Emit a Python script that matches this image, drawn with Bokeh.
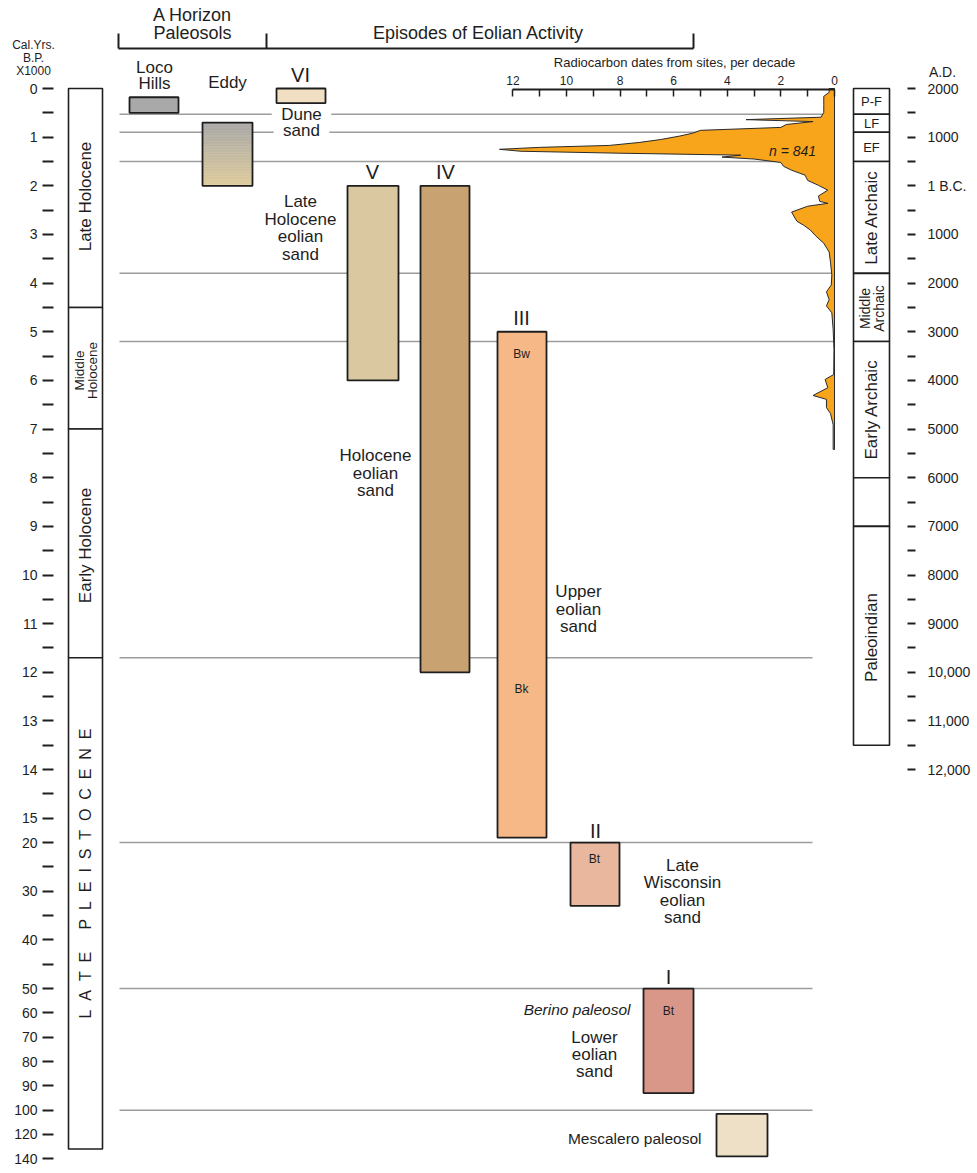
import numpy as np
from bokeh.plotting import figure
from bokeh.models import Range1d, LinearAxis, FixedTicker, Label
from bokeh.core.properties import value
from bokeh.embed import file_html
from bokeh.resources import INLINE

# ------------------------------------------------------------------ data
# non-linear time scale of the chart: ka -> axis units
SCALE_KA = [0, 15, 20, 50, 100, 140]
SCALE_U = [0, 15, 15.5, 18.5, 21, 22]

LEFT_TICKS_KA = [0, 1, 2, 3, 4, 5, 6, 7, 8, 9, 10, 11, 12, 13, 14, 15,
                 20, 30, 40, 50, 60, 70, 80, 90, 100, 120, 140]
LEFT_TICK_LABELS = ["0", "1", "2", "3", "4", "5", "6", "7", "8", "9", "10", "11", "12", "13",
                    "14", "15", "20", "30", "40", "50", "60", "70", "80", "90", "100", "120", "140"]
LEFT_MINOR_KA = [0.5, 1.5, 2.5, 3.5, 4.5, 5.5, 6.5, 7.5, 8.5, 9.5, 10.5, 11.5, 12.5, 13.5, 14.5,
                 25, 35, 45]

RIGHT_TICKS_KA = [0, 1, 2, 3, 4, 5, 6, 7, 8, 9, 10, 11, 12, 13, 14]
RIGHT_TICK_LABELS = ["2000", "1000", "1 B.C.", "1000", "2000", "3000", "4000", "5000", "6000",
                     "7000", "8000", "9000", "10,000", "11,000", "12,000"]
RIGHT_MINOR_KA = [0.5, 1.5, 2.5, 3.5, 4.5, 5.5, 6.5, 7.5, 8.5, 9.5, 10.5, 11.5, 12.5, 13.5]

COUNT_TICKS = [0, 2, 4, 6, 8, 10, 12]
COUNT_MINOR = [1, 3, 5, 7, 9, 11]

# geologic periods (left column)
PERIOD_NAMES = ["Late Holocene", "Middle Holocene", "Early Holocene", "LATE PLEISTOCENE"]
PERIOD_START_KA = [0.0, 4.5, 7.0, 11.7]
PERIOD_END_KA = [4.5, 7.0, 11.7, 132.0]

# cultural periods (right column)
CULT_NAMES = ["P-F", "LF", "EF", "Late Archaic", "Middle Archaic", "Early Archaic", "", "Paleoindian"]
CULT_START_KA = [0.0, 0.53, 0.9, 1.5, 3.8, 5.2, 8.0, 9.0]
CULT_END_KA = [0.53, 0.9, 1.5, 3.8, 5.2, 8.0, 9.0, 13.5]

# paleosols and eolian episodes
UNIT_NAMES = ["Loco Hills", "Eddy", "VI", "V", "IV", "III", "II", "I", "Mescalero"]
UNIT_TOP_KA = [0.18, 0.7, 0.0, 2.0, 2.0, 5.0, 20.0, 50.0, 103.0]
UNIT_BOTTOM_KA = [0.5, 2.0, 0.3, 6.0, 12.0, 19.0, 33.0, 93.0, 138.0]
UNIT_COLORS = ["#a9a9a9", "#ffffff", "#f0dfc2", "#d9c8a0", "#c9a271", "#f6b887", "#e9b79e",
               "#d9978a", "#ede0c6"]

# boundary lines
HLINE_KA = [0.53, 0.9, 1.5, 3.8, 5.2, 11.7, 20.0, 50.0, 100.0]

# radiocarbon dates from sites, per decade
HIST_KA = [0.00, 0.08, 0.16, 0.33, 0.49, 0.59, 0.64, 0.68, 0.74, 0.80,
           0.86, 0.92, 0.98, 1.05, 1.11, 1.17, 1.21, 1.25, 1.29, 1.33,
           1.37, 1.41, 1.45, 1.52, 1.60, 1.68, 1.78, 1.89, 1.99, 2.09,
           2.21, 2.32, 2.36, 2.42, 2.54, 2.64, 2.73, 2.81, 2.91, 3.03,
           3.18, 3.36, 3.57, 3.83, 4.04, 4.18, 4.34, 4.47, 4.61, 4.96,
           5.37, 5.88, 5.98, 6.15, 6.31, 6.39, 6.56, 6.68, 6.91, 7.42]
HIST_COUNT = [0.2, 0.2, 0.4, 0.4, 0.4, 0.5, 3.3, 0.8, 1.8, 2.0,
              5.0, 5.3, 5.8, 6.5, 7.3, 8.4, 11.0, 12.5, 11.7, 8.0,
              3.5, 4.2, 3.0, 2.0, 1.9, 1.6, 1.1, 1.0, 0.6, 0.25,
              0.6, 0.55, 0.25, 1.0, 1.6, 1.5, 1.4, 1.15, 0.9, 0.7,
              0.4, 0.2, 0.15, 0.1, 0.12, 0.3, 0.2, 0.3, 0.1, 0.05,
              0.02, 0.03, 0.35, 0.25, 0.8, 0.3, 0.3, 0.15, 0.05, 0.05]
N_DATES = 841

# ------------------------------------------------------------------ layout
FONT = "Liberation Sans"
INK = "#1e1e1e"
W, H = 972, 1168
PX0 = 0                     # canvas origin on the page
PX_TOP, PX_PER_U = 88.0, 48.65
COUNT_ZERO_PX, PX_PER_COUNT = 834.0, 26.8


def U(ka):
    return np.round(np.interp(ka, SCALE_KA, SCALE_U), 6)


def upx(py):
    return (py - PX_TOP) / PX_PER_U


p = figure(width=W, height=H,
           x_range=Range1d(PX0, PX0 + W),
           y_range=Range1d(upx(PX0 + H), upx(PX0)),
           output_backend="svg", toolbar_location=None, min_border=0,
           x_axis_type=None, y_axis_type=None)
p.outline_line_color = None
p.background_fill_color = "white"
p.border_fill_color = "white"
p.extra_x_ranges = {"count": Range1d(start=(COUNT_ZERO_PX - PX0) / PX_PER_COUNT,
                                     end=(COUNT_ZERO_PX - PX0 - W) / PX_PER_COUNT)}


def put(x, ypx, s, size, align="center", angle=0.0, style="normal", color=INK, baseline="middle"):
    p.text(x=[x], y=[upx(ypx)], text=[s], text_font=value(FONT),
           text_font_size=f"{size}px", text_align=align, text_baseline=baseline,
           angle=angle, text_font_style=style, text_color=color)


# ---- boundary lines
line_right = [834, 834, 834, 832, 834, 812, 812, 812, 812]
hy = U(HLINE_KA)
p.segment(x0=[119] * len(HLINE_KA), x1=line_right, y0=hy, y1=hy,
          line_color="#9c9c9c", line_width=1.5)

# ---- histogram of radiocarbon dates
hx = [0.0] + list(HIST_COUNT) + [0.0]
hk = U(HIST_KA)
hy2 = [hk[0]] + list(hk) + [hk[-1]]
p.patch(hx, hy2, x_range_name="count", fill_color="#f8a51c", line_color="#2a2a2a", line_width=1)

# ---- chronology columns
ps, pe = U(PERIOD_START_KA), U(PERIOD_END_KA)
p.quad(left=68, right=102, top=ps, bottom=pe, fill_color="white", line_color=INK, line_width=1.6)
cs, ce = U(CULT_START_KA), U(CULT_END_KA)
p.quad(left=853, right=889, top=cs, bottom=ce, fill_color="white", line_color=INK, line_width=1.6)

# ---- unit boxes
UNIT_LEFT = [129, 202, 276, 347, 420, 497, 570, 643, 716]
UNIT_RIGHT = [178, 252, 325, 398, 469, 546, 619, 693, 767]
ut, ub = U(UNIT_TOP_KA), U(UNIT_BOTTOM_KA)
p.quad(left=UNIT_LEFT, right=UNIT_RIGHT, top=ut, bottom=ub, fill_color=UNIT_COLORS, line_color=None)

# Eddy: grey-to-tan gradient
n = 40
edges = np.linspace(ut[1], ub[1], n + 1)
c0 = np.array([170, 169, 168])
c1 = np.array([222, 204, 158])
cols = ["#%02x%02x%02x" % tuple((c0 + (c1 - c0) * t).astype(int)) for t in np.linspace(0, 1, n)]
p.quad(left=UNIT_LEFT[1], right=UNIT_RIGHT[1], top=edges[:-1], bottom=edges[1:],
       fill_color=cols, line_color=cols, line_width=0.6)
p.quad(left=UNIT_LEFT, right=UNIT_RIGHT, top=ut, bottom=ub, fill_color=None,
       line_color=INK, line_width=1.8)

# ---- header brackets
y_br, y_tk = upx(48), upx(33)
p.segment(x0=[118, 118, 266, 693], x1=[693, 118, 266, 693],
          y0=[y_br, y_br, y_br, y_br], y1=[y_br, y_tk, y_tk, y_tk],
          line_color=INK, line_width=2)
put(192, 14, "A Horizon", 18)
put(192, 32, "Paleosols", 18)
put(478, 32, "Episodes of Eolian Activity", 18)
put(33, 44, "Cal.Yrs.", 12)
put(33, 57, "B.P.", 12)
put(33, 70, "X1000", 12)
put(674, 62, "Radiocarbon dates from sites, per decade", 13)
put(942, 71, "A.D.", 14)

# ---- unit labels
put(154, 67, "Loco", 17)
put(154, 83, "Hills", 17)
put(227, 82, "Eddy", 17)
put(300, 74, "VI", 20)
put(372, 171, "V", 20)
put(445, 171, "IV", 20)
put(521, 317, "III", 20)
put(595, 830, "II", 20)
put(668, 976, "I", 20)
for lab, ypx in [("Dune", 114), ("sand", 130)]:
    p.add_layout(Label(x=301, y=upx(ypx), text="\u00a0\u00a0" + lab + "\u00a0\u00a0",
                       text_font=FONT, text_font_size="17px", text_align="center",
                       text_baseline="middle", text_color=INK,
                       background_fill_color="white"))
for i, s in enumerate(["Late", "Holocene", "eolian", "sand"]):
    put(300, 201 + 17.6 * i, s, 17)
for i, s in enumerate(["Holocene", "eolian", "sand"]):
    put(375, 455 + 17.6 * i, s, 17)
for i, s in enumerate(["Upper", "eolian", "sand"]):
    put(578, 591 + 17.6 * i, s, 17)
for i, s in enumerate(["Late", "Wisconsin", "eolian", "sand"]):
    put(682, 865 + 17.4 * i, s, 17)
for i, s in enumerate(["Lower", "eolian", "sand"]):
    put(594, 1037 + 16.8 * i, s, 17)
put(630, 1009, "Berino paleosol", 15.5, align="right", style="italic")
put(701, 1138, "Mescalero paleosol", 15.5, align="right")
put(521, 353, "Bw", 12)
put(521, 688, "Bk", 12)
put(594, 858, "Bt", 12)
put(668, 1010, "Bt", 12)
put(792, 150, f"n = {N_DATES}", 14, style="italic")

# ---- column labels
R90 = np.pi / 2
put(85, 196, PERIOD_NAMES[0], 17, angle=R90)
put(79, 370, "Middle", 13.5, angle=R90)
put(92, 370, "Holocene", 13.5, angle=R90)
put(85, 545, PERIOD_NAMES[2], 17, angle=R90)
spaced = "\u00a0\u00a0\u00a0\u00a0\u00a0".join("\u00a0\u00a0".join(list(w)) for w in PERIOD_NAMES[3].split(" "))
put(85, 873, spaced, 16, angle=R90)

put(871, 101, CULT_NAMES[0], 13)
put(871, 123, CULT_NAMES[1], 13)
put(871, 147, CULT_NAMES[2], 13)
put(871, 217, CULT_NAMES[3], 17, angle=R90)
put(864, 308, "Middle", 14, angle=R90)
put(878, 308, "Archaic", 14, angle=R90)
put(871, 409, CULT_NAMES[5], 17, angle=R90)
put(871, 637, CULT_NAMES[7], 17, angle=R90)

# ---- axes
left_u = U(LEFT_TICKS_KA)
left_ax = LinearAxis(ticker=FixedTicker(ticks=list(left_u), minor_ticks=list(U(LEFT_MINOR_KA))),
                     fixed_location=53)
left_ax.major_label_overrides = {float(u): s for u, s in zip(left_u, LEFT_TICK_LABELS)}
right_u = U(RIGHT_TICKS_KA)
right_ax = LinearAxis(ticker=FixedTicker(ticks=list(right_u), minor_ticks=list(U(RIGHT_MINOR_KA))),
                      fixed_location=907)
right_ax.major_label_overrides = {float(u): s for u, s in zip(right_u, RIGHT_TICK_LABELS)}
for ax, out, standoff in [(left_ax, 11, 5), (right_ax, 8, 12)]:
    ax.axis_line_color = None
    ax.major_tick_out = out
    ax.major_tick_in = 0
    ax.minor_tick_out = out
    ax.minor_tick_in = 0
    ax.major_tick_line_width = 2
    ax.minor_tick_line_width = 2
    ax.major_tick_line_color = INK
    ax.minor_tick_line_color = INK
    ax.major_label_text_font = FONT
    ax.major_label_text_font_size = "14px"
    ax.major_label_text_color = INK
    ax.major_label_standoff = standoff
p.add_layout(left_ax, "left")
p.add_layout(right_ax, "right")

count_ax = LinearAxis(x_range_name="count",
                      ticker=FixedTicker(ticks=COUNT_TICKS, minor_ticks=COUNT_MINOR),
                      bounds=(0, 12), fixed_location=upx(89))
count_ax.axis_line_width = 2
count_ax.axis_line_color = INK
count_ax.major_tick_in = 7
count_ax.major_tick_out = 0
count_ax.minor_tick_in = 7
count_ax.minor_tick_out = 0
count_ax.major_tick_line_width = 1.5
count_ax.minor_tick_line_width = 1.5
count_ax.major_tick_line_color = INK
count_ax.minor_tick_line_color = INK
count_ax.major_label_text_font = FONT
count_ax.major_label_text_font_size = "12px"
count_ax.major_label_text_color = INK
count_ax.major_label_standoff = 5
p.add_layout(count_ax, "above")

open("out.html", "w").write(file_html(p, INLINE))
